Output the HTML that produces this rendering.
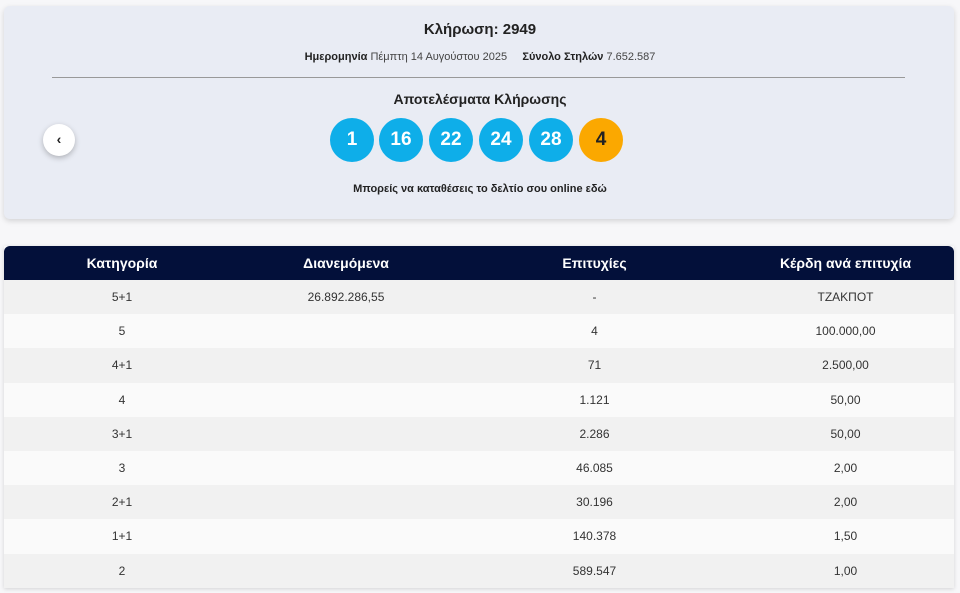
<!DOCTYPE html>
<html><head><meta charset="utf-8"><style>
body{margin:0;width:960px;height:593px;background:#f7f7f9;font-family:"Liberation Sans",sans-serif;position:relative;overflow:hidden;color:#222}
.card{position:absolute;left:4px;top:6px;width:950px;height:213px;background:#e9ecf4;border-radius:6px;box-shadow:0 2px 6px rgba(0,0,0,.15)}
.t{position:absolute;left:0;width:960px;text-align:center}
.ball{position:absolute;top:118px;width:44px;height:44px;border-radius:50%;background:#0eaee9;color:#fff;font-weight:bold;font-size:19px;line-height:44px;text-align:center}
.back{position:absolute;left:43px;top:124px;width:32px;height:32px;border-radius:50%;background:#fff;box-shadow:0 2px 6px rgba(0,0,0,.25);text-align:center;line-height:31px;font-size:14px;font-weight:bold}
table{position:absolute;left:4px;top:246px;width:950px;border-collapse:collapse;font-size:12px;box-shadow:0 1px 4px rgba(0,0,0,.15)}
th{background:#03103a;color:#fff;height:34px;font-size:14px;font-weight:bold;padding:0}
th:first-child{border-top-left-radius:6px}th:last-child{border-top-right-radius:6px}
td{height:34.2px;padding:0;text-align:center;color:#333}
tr:nth-child(odd) td{background:#fafafa}tr:nth-child(even) td{background:#f1f1f1}
</style></head><body>
<div class="card"></div>
<div class="t" style="top:21px;font-size:15px;font-weight:bold">Κλήρωση: 2949</div>
<div class="t" style="top:51px;font-size:11px;color:#444"><b style="color:#222">Ημερομηνία</b> Πέμπτη 14 Αυγούστου 2025 &nbsp;&nbsp;&nbsp; <b style="color:#222">Σύνολο Στηλών</b> 7.652.587</div>
<div style="position:absolute;left:52px;top:77px;width:853px;height:1px;background:#999"></div>
<div class="t" style="top:91px;font-size:14px;font-weight:bold">Αποτελέσματα Κλήρωσης</div>
<div class="back">‹</div>
<div class="ball" style="left:330px">1</div>
<div class="ball" style="left:379px">16</div>
<div class="ball" style="left:429px">22</div>
<div class="ball" style="left:479px">24</div>
<div class="ball" style="left:529px">28</div>
<div class="ball" style="left:579px;background:#fba800;color:#222">4</div>
<div class="t" style="top:183px;font-size:11px;font-weight:bold">Μπορείς να καταθέσεις το δελτίο σου online εδώ</div>
<table>
<colgroup><col style="width:236px"><col style="width:212px"><col style="width:285px"><col style="width:217px"></colgroup>
<tr><th>Κατηγορία</th><th>Διανεμόμενα</th><th>Επιτυχίες</th><th>Κέρδη ανά επιτυχία</th></tr>
<tr><td>5+1</td><td>26.892.286,55</td><td>-</td><td>ΤΖΑΚΠΟΤ</td></tr>
<tr><td>5</td><td></td><td>4</td><td>100.000,00</td></tr>
<tr><td>4+1</td><td></td><td>71</td><td>2.500,00</td></tr>
<tr><td>4</td><td></td><td>1.121</td><td>50,00</td></tr>
<tr><td>3+1</td><td></td><td>2.286</td><td>50,00</td></tr>
<tr><td>3</td><td></td><td>46.085</td><td>2,00</td></tr>
<tr><td>2+1</td><td></td><td>30.196</td><td>2,00</td></tr>
<tr><td>1+1</td><td></td><td>140.378</td><td>1,50</td></tr>
<tr><td>2</td><td></td><td>589.547</td><td>1,00</td></tr>
</table>
</body></html>
